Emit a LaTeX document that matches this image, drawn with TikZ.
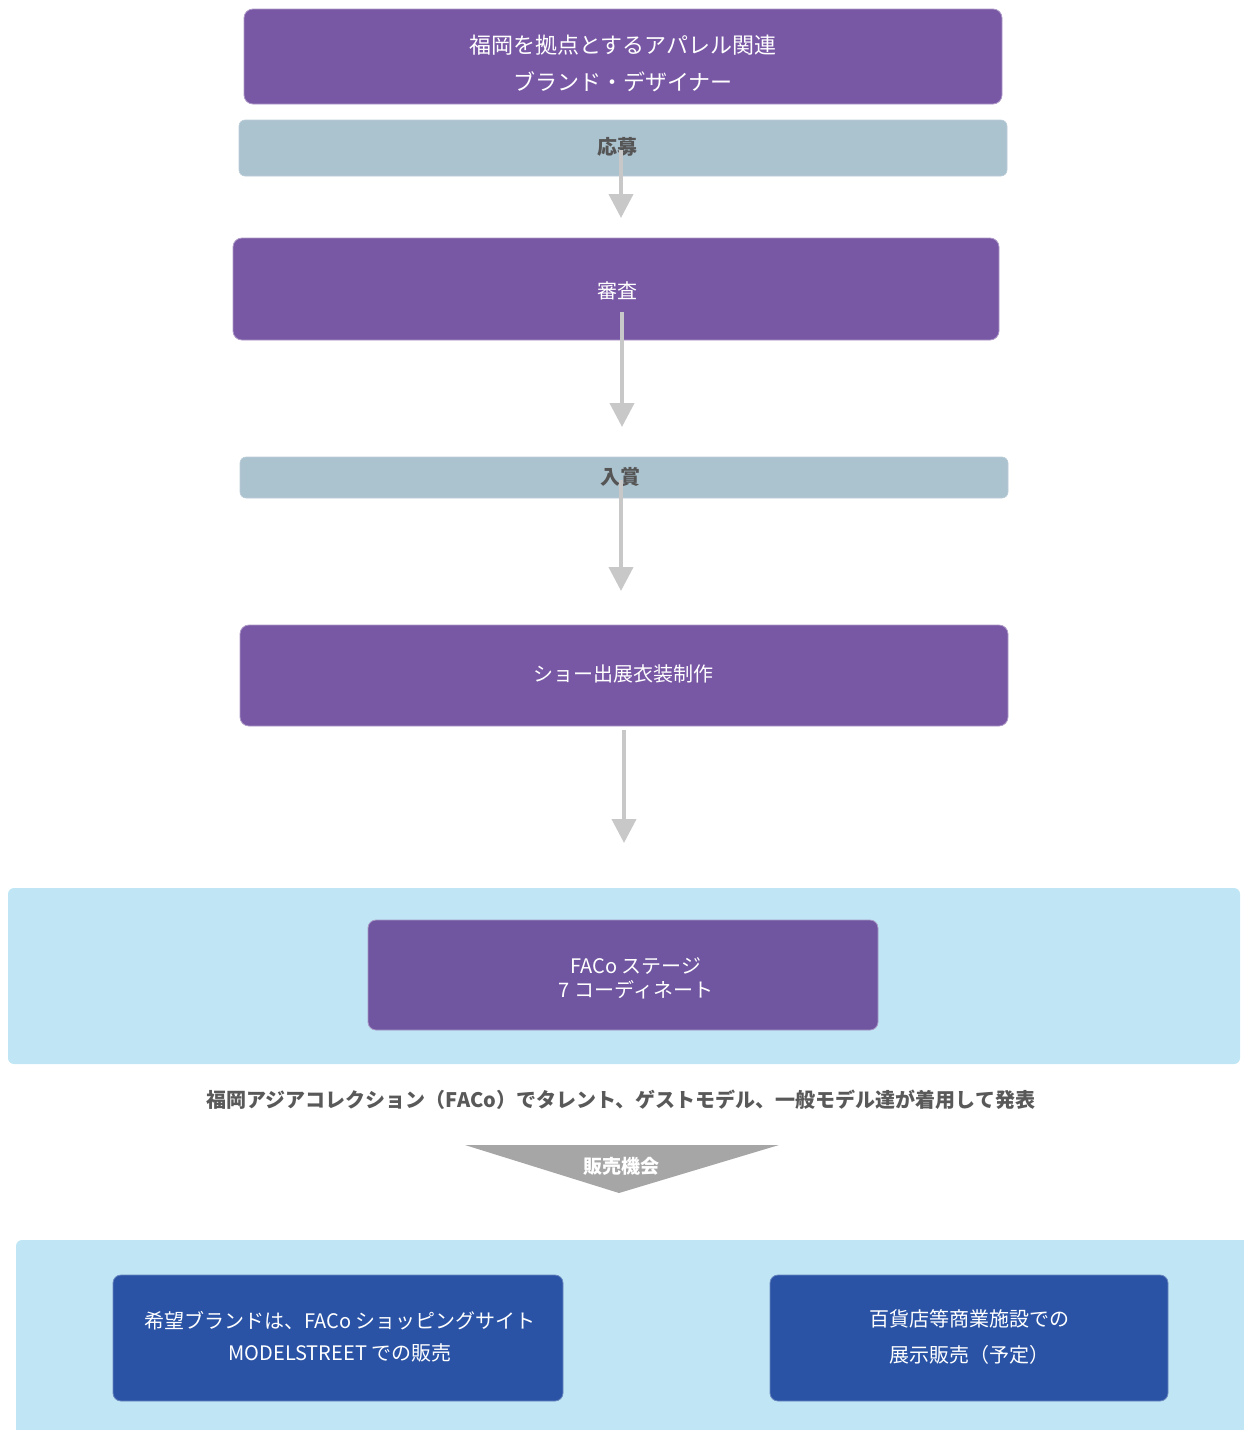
\documentclass[tikz,border=0pt]{standalone}
\usepackage{fontspec}
\setmainfont{Noto Sans CJK JP}
\usetikzlibrary{arrows.meta}
\definecolor{pur}{HTML}{7857A4}
\definecolor{pur2}{HTML}{7055A0}
\definecolor{barc}{HTML}{ABC2CF}
\definecolor{bartxt}{HTML}{555555}
\definecolor{panel}{HTML}{C0E6F5}
\definecolor{bluebox}{HTML}{2A53A5}
\definecolor{trig}{HTML}{A6A6A7}
\definecolor{captxt}{HTML}{595959}
\definecolor{arrc}{HTML}{C8C8C8}
\begin{document}
\begin{tikzpicture}[x=1pt,y=-1pt,
  purbox/.style={fill=pur, draw=pur!60!white, line width=0.8pt, rounded corners=9pt, inner sep=0pt},
  barbox/.style={fill=barc, draw=barc!80!white, line width=0.6pt, rounded corners=6pt, inner sep=0pt},
  panelbox/.style={fill=panel, rounded corners=6pt, inner sep=0pt},
  bluebx/.style={fill=bluebox, draw=bluebox!70!white, line width=0.8pt, rounded corners=8pt, inner sep=0pt},
  wtxt/.style={text=white, align=center, inner sep=0pt},
  btxt/.style={text=bartxt, font=\fontsize{20}{24}\selectfont\bfseries, inner sep=0pt},
  arr/.style={draw=arrc, line width=4pt, -{Triangle[width=24pt,length=24pt]}}
]
\useasboundingbox (0,0) rectangle (1243,1430);

% top box
\node[purbox, minimum width=758pt, minimum height=95pt] (top) at (623,56.5) {};
\node[wtxt, font=\fontsize{22}{37}\selectfont] (toptxt) at (623,63.5) {福岡を拠点とするアパレル関連\\ブランド・デザイナー};

% 応募
\node[barbox, minimum width=768pt, minimum height=56pt] (oubo) at (623,148) {};
\node[btxt] (oubotxt) at (617,147) {応募};

% 審査
\node[purbox, minimum width=766pt, minimum height=102pt] (shinsa) at (616,289) {};
\node[wtxt, font=\fontsize{20}{24}\selectfont] (shinsatxt) at (617,291) {審査};

% 入賞
\node[barbox, minimum width=768pt, minimum height=41pt] (nyusho) at (624,477.5) {};
\node[btxt] (nyushotxt) at (620,477) {入賞};

% ショー
\node[purbox, minimum width=768pt, minimum height=101pt] (show) at (624,675.5) {};
\node[wtxt, font=\fontsize{20}{24}\selectfont] (showtxt) at (623,674) {ショー出展衣装制作};

% panel 1
\node[panelbox, minimum width=1232pt, minimum height=176pt] (panel1) at (624,976) {};
\node[fill=pur2, draw=pur2!60!white, line width=0.8pt, rounded corners=8pt, minimum width=510pt, minimum height=110pt, inner sep=0pt] (faco) at (623,975) {};
\node[wtxt, font=\fontsize{20}{24}\selectfont] (facotxt) at (636,978) {FACo ステージ\\7 コーディネート};

% caption
\node[text=captxt, font=\fontsize{20}{24}\selectfont\bfseries, inner sep=0pt] (caption) at (621,1100) {福岡アジアコレクション（FACo）でタレント、ゲストモデル、一般モデル達が着用して発表};

% triangle
\coordinate (t1) at (465,1145);
\coordinate (t2) at (779,1145);
\coordinate (t3) at (619,1193);
\fill[trig] (t1) -- (t2) -- (t3) -- cycle;
\node[text=white, font=\fontsize{19}{24}\selectfont\bfseries, inner sep=0pt] (hanbai) at (621,1166) {販売機会};

% panel 2
\fill[panel, rounded corners=6pt] (16,1240) rectangle (1260,1450);
\node[bluebx, minimum width=450pt, minimum height=126pt] (left) at (338,1338) {};
\node[wtxt, font=\fontsize{20}{32}\selectfont] (lefttxt) at (340,1337) {希望ブランドは、FACo ショッピングサイト\\MODELSTREET での販売};
\node[bluebx, minimum width=398pt, minimum height=126pt] (right) at (969,1338) {};
\node[wtxt, font=\fontsize{20}{36}\selectfont] (righttxt) at (969,1337) {百貨店等商業施設での\\展示販売（予定）};

% arrows
\coordinate (a1s) at (621,150);
\coordinate (a1e) at (621,218);
\coordinate (a2s) at (622,312);
\coordinate (a2e) at (622,427);
\coordinate (a3s) at (621,480);
\coordinate (a3e) at (621,591);
\coordinate (a4s) at (624,730);
\coordinate (a4e) at (624,843);
\draw[arr] (a1s) -- (a1e);
\draw[arr] (a2s) -- (a2e);
\draw[arr] (a3s) -- (a3e);
\draw[arr] (a4s) -- (a4e);
\end{tikzpicture}
\end{document}
